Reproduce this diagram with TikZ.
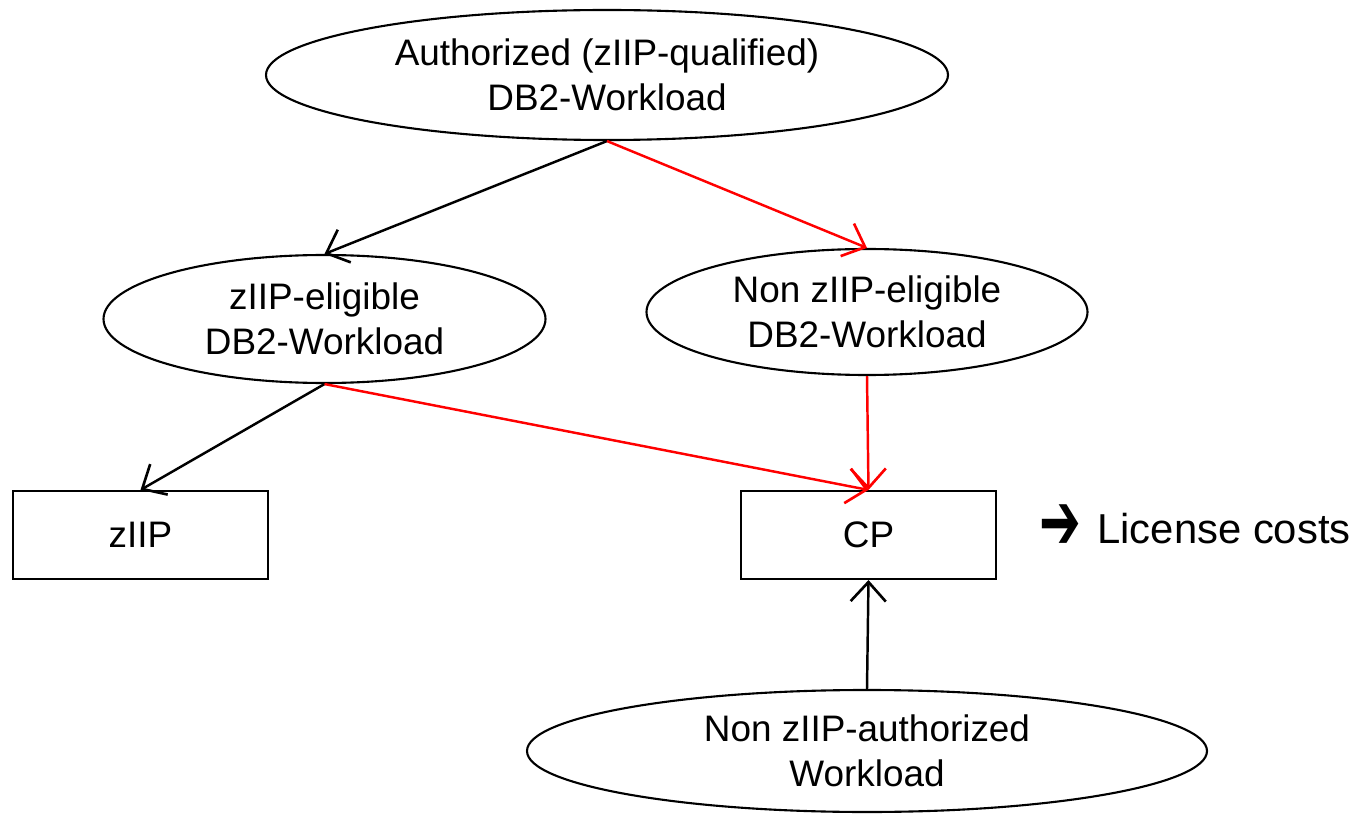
\documentclass[tikz,border=0pt]{standalone}
\usepackage{fontspec}
\setmainfont{Liberation Sans}
\newfontfamily\dejavu{DejaVu Sans}
\usetikzlibrary{shapes.geometric,arrows.meta}
\begin{document}
\begin{tikzpicture}[x=0.02cm,y=-0.02cm,
  every node/.style={font=\fontsize{21}{25.6}\selectfont, align=center, inner sep=0pt},
  ell/.style={draw, line width=1.2pt, ellipse},
  box/.style={draw, line width=1.2pt, rectangle, minimum width=255*0.02cm, minimum height=88*0.02cm},
  conn/.style={line width=1.4pt, -{Straight Barb[length=11pt,width=20pt,line width=1.5pt]}},
  redconn/.style={conn, red}]
\useasboundingbox (0,0) rectangle (1356,814);
\node[ell, minimum width=682*0.02cm, minimum height=130*0.02cm] (top) at (607,75) {Authorized (zIIP-qualified)\\DB2-Workload};
\node[ell, minimum width=442*0.02cm, minimum height=128*0.02cm] (ze) at (324.5,319) {zIIP-eligible\\DB2-Workload};
\node[ell, minimum width=441*0.02cm, minimum height=126*0.02cm] (ne) at (867,312) {Non zIIP-eligible\\DB2-Workload};
\node[box] (zb) at (140.5,535) {zIIP};
\node[box] (cp) at (868.5,535) {CP};
\node[ell, minimum width=680*0.02cm, minimum height=122*0.02cm] (na) at (867,751) {Non zIIP-authorized\\Workload};
\node (licarrow) at (1060,527) {\scalebox{1.35}[2.2]{\dejavu\bfseries ➔}};
\node[anchor=base west, font=\fontsize{23.8}{28}\selectfont] (lic) at (1097,543) {License costs};
\draw[conn] (top.south) -- (ze.north);
\draw[redconn] (top.south) -- (ne.north);
\draw[conn] (ze.south) -- (zb.north);
\draw[redconn] (ze.south) -- (cp.north);
\draw[redconn] (ne.south) -- (cp.north);
\draw[conn] (na.north) -- (cp.south);
\end{tikzpicture}
\end{document}
